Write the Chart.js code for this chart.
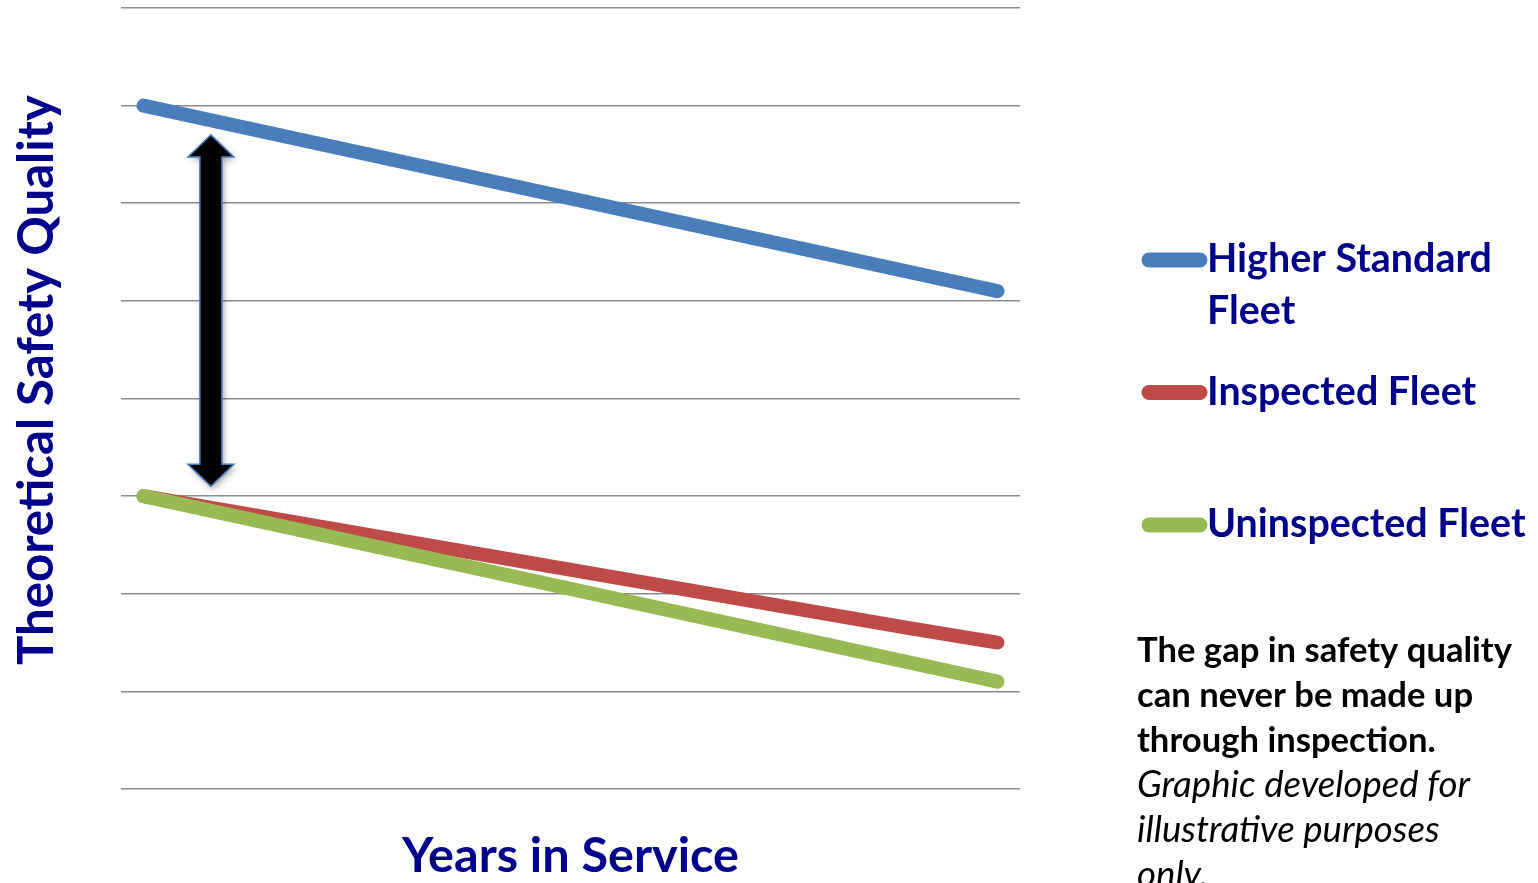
<!DOCTYPE html>
<html><head><meta charset="utf-8">
<script src="https://cdn.jsdelivr.net/npm/chart.js@4/dist/chart.umd.min.js"></script>
<style>html,body{margin:0;padding:0;background:#fff;overflow:hidden}canvas{display:block}</style>
</head><body>
<canvas id="c" width="1538" height="883"></canvas>
<script>
// ---- data ----
const seriesNames = ["Higher Standard Fleet", "Inspected Fleet", "Uninspected Fleet"];
const higherYears = [0.5, 19.5];
const higherValues = [7.0, 5.1];
const inspectedYears = [0.5, 17.5, 19.5];
const inspectedValues = [3.0, 1.65, 1.5];
const uninspectedYears = [0.5, 19.5];
const uninspectedValues = [3.0, 1.1];
const yTicks = [0, 1, 2, 3, 4, 5, 6, 7, 8];
const gapArrowYear = 2;
const gapArrowFrom = 6.7;
const gapArrowTo = 3.1;
const xTitle = "Years in Service";
const yTitle = "Theoretical Safety Quality";
const noteBold = ["The gap in safety quality", "can never be made up", "through inspection."];
const noteItalic = ["Graphic developed for", "illustrative purposes", "only."];

// ---- styles ----
const colors = ["#4a7ebb", "#be4b48", "#98b954"];
const navy = "#00008b";
const FAMILY = "Lato, 'Open Sans', sans-serif";

function pts(xs, ys) { return xs.map((x, i) => ({ x: x, y: ys[i] })); }

function fitSize(ctx, text, weight, style, target) {
  ctx.font = `${style} ${weight} 100px ${FAMILY}`;
  const w = ctx.measureText(text).width;
  return 100 * target / w;
}

const decor = {
  id: 'decor',
  afterDatasetsDraw(chart) {
    const ctx = chart.ctx;
    const xs = chart.scales.x, ys = chart.scales.y;
    const cx = xs.getPixelForValue(gapArrowYear);
    const ty = ys.getPixelForValue(gapArrowFrom);
    const by = ys.getPixelForValue(gapArrowTo);
    const hw = 23, sw = 11, hl = 22;
    ctx.save();
    ctx.beginPath();
    ctx.moveTo(cx, ty);
    ctx.lineTo(cx + hw, ty + hl);
    ctx.lineTo(cx + sw, ty + hl);
    ctx.lineTo(cx + sw, by - hl);
    ctx.lineTo(cx + hw, by - hl);
    ctx.lineTo(cx, by);
    ctx.lineTo(cx - hw, by - hl);
    ctx.lineTo(cx - sw, by - hl);
    ctx.lineTo(cx - sw, ty + hl);
    ctx.lineTo(cx - hw, ty + hl);
    ctx.closePath();
    ctx.shadowColor = "rgba(0,0,0,0.35)";
    ctx.shadowBlur = 6;
    ctx.shadowOffsetX = 2;
    ctx.shadowOffsetY = 3;
    ctx.fillStyle = "#000";
    ctx.fill();
    ctx.shadowColor = "transparent";
    ctx.lineWidth = 1.5;
    ctx.strokeStyle = "#4a7ebb";
    ctx.lineJoin = "miter";
    ctx.stroke();
    ctx.restore();
  },
  afterDraw(chart) {
    const ctx = chart.ctx;
    ctx.save();
    // y title
    let s = fitSize(ctx, yTitle, 'bold', 'normal', 570);
    ctx.font = `normal bold ${s}px ${FAMILY}`;
    let m = ctx.measureText(yTitle);
    const bx = 38.5 + (m.actualBoundingBoxAscent - m.actualBoundingBoxDescent) / 2;
    ctx.fillStyle = navy;
    ctx.textAlign = "center";
    ctx.textBaseline = "alphabetic";
    ctx.translate(bx, 380);
    ctx.rotate(-Math.PI / 2);
    ctx.fillText(yTitle, 0, 0);
    ctx.setTransform(1, 0, 0, 1, 0, 0);
    // x title
    const ca = chart.chartArea;
    s = fitSize(ctx, xTitle, 'bold', 'normal', 337);
    ctx.font = `normal bold ${s}px ${FAMILY}`;
    ctx.fillText(xTitle, (ca.left + ca.right) / 2, 872);
    // legend
    ctx.textAlign = "left";
    const ls = fitSize(ctx, "Higher Standard", 'bold', 'normal', 285);
    ctx.font = `normal bold ${ls}px ${FAMILY}`;
    chart.data.datasets.forEach((ds, i) => {
      const cy = 260 + i * 132.5;
      ctx.beginPath();
      ctx.moveTo(1149, cy);
      ctx.lineTo(1200, cy);
      ctx.lineWidth = 15;
      ctx.lineCap = "round";
      ctx.strokeStyle = ds.borderColor;
      ctx.stroke();
      // wrap label
      const words = ds.label.split(" ");
      const lines = [];
      let cur = "";
      words.forEach(w => {
        const t = cur ? cur + " " + w : w;
        if (ctx.measureText(t).width > 330 && cur) { lines.push(cur); cur = w; } else cur = t;
      });
      lines.push(cur);
      ctx.fillStyle = navy;
      lines.forEach((ln, k) => ctx.fillText(ln, 1207, cy + 12 + k * 52));
    });
    // note
    ctx.fillStyle = "#000";
    const ns = fitSize(ctx, noteBold[0], 'bold', 'normal', 375);
    ctx.font = `normal bold ${ns}px ${FAMILY}`;
    noteBold.forEach((ln, k) => ctx.fillText(ln, 1137, 662 + k * 45));
    const is = fitSize(ctx, noteItalic[0], 'normal', 'italic', 333);
    ctx.font = `italic normal ${is}px ${FAMILY}`;
    noteItalic.forEach((ln, k) => ctx.fillText(ln, 1137, 797 + k * 45));
    ctx.restore();
  }
};

const lineStyle = (c) => ({
  borderColor: c, backgroundColor: c, borderWidth: 14,
  borderCapStyle: 'round', borderJoinStyle: 'round',
  pointRadius: 0, pointHoverRadius: 0, tension: 0, fill: false, clip: false
});

new Chart(document.getElementById('c'), {
  type: 'line',
  data: {
    datasets: [
      Object.assign({ label: seriesNames[0], data: pts(higherYears, higherValues), order: 0 }, lineStyle(colors[0])),
      Object.assign({ label: seriesNames[1], data: pts(inspectedYears, inspectedValues), order: 2 }, lineStyle(colors[1])),
      Object.assign({ label: seriesNames[2], data: pts(uninspectedYears, uninspectedValues), order: 1 }, lineStyle(colors[2]))
    ]
  },
  options: {
    responsive: false,
    devicePixelRatio: 1,
    animation: false,
    events: [],
    layout: { padding: { left: 121, right: 518, top: 8, bottom: 94 } },
    plugins: { legend: { display: false }, tooltip: { enabled: false } },
    scales: {
      x: { type: 'linear', min: 0, max: 20, display: false },
      y: {
        type: 'linear', min: 0, max: 8,
        afterBuildTicks: (sc) => { sc.ticks = yTicks.map(v => ({ value: v })); },
        ticks: { display: false },
        grid: { color: '#8c8c8c', lineWidth: 1.6, drawTicks: false },
        border: { display: false }
      }
    }
  },
  plugins: [decor]
});
</script>
</body></html>
